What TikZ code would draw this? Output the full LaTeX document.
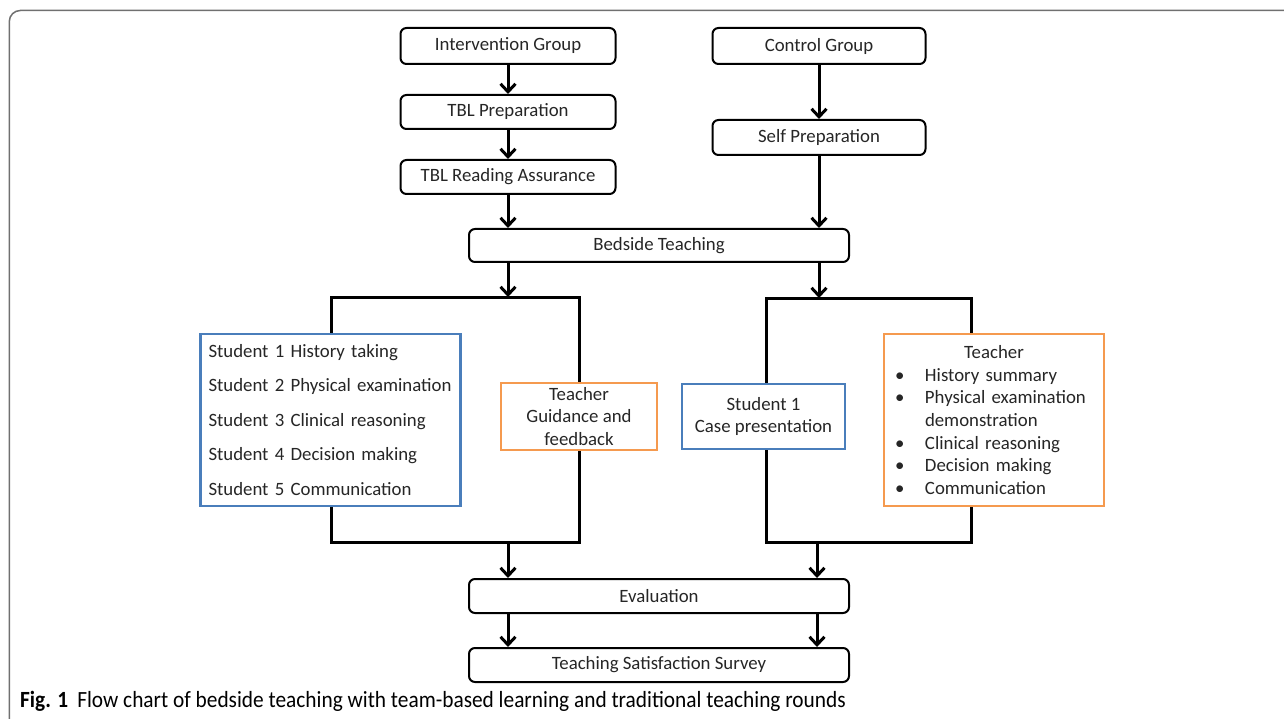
\documentclass[tikz,border=0pt]{standalone}
\usepackage{fontspec}
\setmainfont{Carlito}
\newfontfamily\captfont[FakeStretch=0.92]{Carlito}
\usetikzlibrary{arrows.meta}
\definecolor{bblue}{HTML}{4A7EBB}
\definecolor{borange}{HTML}{F59A4F}
\definecolor{framegray}{HTML}{707070}
\definecolor{txt}{HTML}{262626}
\begin{document}
\begin{tikzpicture}[x=1pt,y=-1pt,
  rbox/.style={draw=black, line width=2pt, rounded corners=6pt, fill=white, inner sep=0pt,
    font=\fontsize{18.8}{22}\selectfont, text=txt},
  bbox/.style={draw=bblue, line width=2.5pt, fill=white, text=txt},
  obox/.style={draw=borange, line width=2.5pt, fill=white, text=txt},
  conn/.style={line width=3pt, -{Straight Barb[length=8pt,width=15pt]}},
  brk/.style={line width=3pt, line join=miter}
]
\useasboundingbox (0,0) rectangle (1284,719);
\fill[white] (0,0) rectangle (1284,719);
% frame
\draw[framegray, line width=1.5pt, rounded corners=11pt] (1300,10.5) -- (9.3,10.5) -- (9.3,740);

% brackets
\coordinate (L1) at (331,297);
\coordinate (L3) at (579,542);
\coordinate (R1) at (766,298);
\coordinate (R3) at (971,542);
\coordinate (lt) at (508,297);
\coordinate (rt) at (819,298);
\coordinate (lb) at (508,542);
\coordinate (rb) at (817,542);
\draw[brk] (L1) rectangle (L3);
\draw[brk] (R1) rectangle (R3);

% top nodes
\node[rbox, minimum width=215pt, minimum height=36pt] (ig) at (508,46) {Intervention Group};
\node[rbox, minimum width=215pt, minimum height=34pt] (tp) at (508,112) {TBL Preparation};
\node[rbox, minimum width=215pt, minimum height=34pt] (tra) at (508,177) {TBL Reading Assurance};
\node[rbox, minimum width=213pt, minimum height=36pt] (cg) at (819,46) {Control Group};
\node[rbox, minimum width=213pt, minimum height=35pt] (sp) at (819,137.5) {Self Preparation};
\node[rbox, minimum width=380pt, minimum height=33pt] (bt) at (659,245.5) {Bedside Teaching};
\node[rbox, minimum width=380pt, minimum height=34pt] (ev) at (659,596) {Evaluation};
\node[rbox, minimum width=380pt, minimum height=34pt] (tss) at (659,665) {Teaching Satisfaction Survey};

% inner boxes
\node[bbox, inner xsep=8pt, inner ysep=0pt, text width=244pt, minimum height=172pt, align=left,
  font=\fontsize{18.8}{34.5}\selectfont] (stl) at (330.5,420)
  {Student 1 History taking\\Student 2 Physical examination\\Student 3 Clinical reasoning\\Student 4 Decision making\\Student 5 Communication};
\node[obox, inner sep=0pt, minimum width=156pt, minimum height=67pt, align=center,
  font=\fontsize{18.8}{22.5}\selectfont] (otl) at (579,416.5)
  {Teacher\\Guidance and\\feedback};
\node[bbox, inner sep=0pt, minimum width=163pt, minimum height=65pt, align=center,
  font=\fontsize{18.8}{22}\selectfont] (s1) at (763.5,416.5)
  {Student 1\\Case presentation};
\node[obox, inner sep=0pt, text width=220pt, minimum height=172pt, align=left,
  font=\fontsize{18.8}{22.7}\selectfont] (otr) at (994,420)
  {\makebox[220pt]{Teacher}\\
   \hspace*{11pt}\makebox[30pt][l]{\textbullet}History summary\\
   \hspace*{11pt}\makebox[30pt][l]{\textbullet}Physical examination\\
   \hspace*{41pt}demonstration\\
   \hspace*{11pt}\makebox[30pt][l]{\textbullet}Clinical reasoning\\
   \hspace*{11pt}\makebox[30pt][l]{\textbullet}Decision making\\
   \hspace*{11pt}\makebox[30pt][l]{\textbullet}Communication};

% connectors
\draw[conn] (ig.south) -- (tp.north);
\draw[conn] (tp.south) -- (tra.north);
\draw[conn] (cg.south) -- (sp.north);
\draw[conn] (tra.south) -- (tra.south |- bt.north);
\draw[conn] (sp.south) -- (sp.south |- bt.north);
\draw[conn] (bt.south -| lt) -- (lt);
\draw[conn] (bt.south -| rt) -- (rt);
\draw[conn] (lb) -- (lb |- ev.north);
\draw[conn] (rb) -- (rb |- ev.north);
\draw[conn] (ev.south -| lb) -- (lb |- tss.north);
\draw[conn] (ev.south -| rb) -- (rb |- tss.north);

% caption
\node[anchor=base west, inner sep=0pt, text=black, font=\captfont\fontsize{23.2}{26}\selectfont] (cap) at (20,707)
  {\textbf{Fig. 1}\hspace{9pt}Flow chart of bedside teaching with team-based learning and traditional teaching rounds};
\end{tikzpicture}
\end{document}
